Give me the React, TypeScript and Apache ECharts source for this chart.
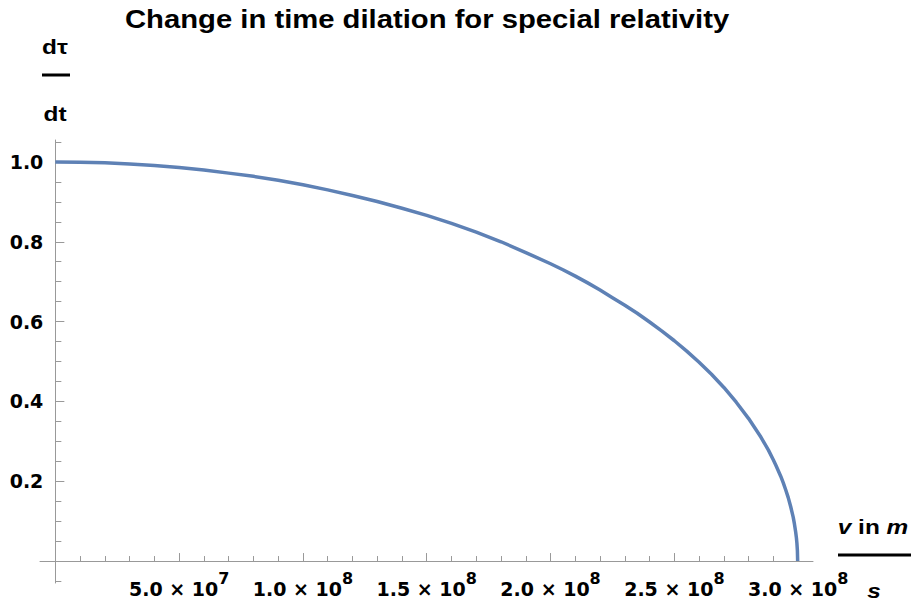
import React, { useEffect, useRef } from "react";
import * as echarts from "echarts";

// Speed v in m/s
const speeds: number[] = [
  0, 1e7, 2e7, 3e7, 4e7, 5e7, 6e7, 7e7, 8e7, 9e7, 10e7, 11e7, 12e7, 13e7, 14e7,
  15e7, 16e7, 17e7, 18e7, 19e7, 20e7, 20.5e7, 21e7, 21.5e7, 22e7, 22.5e7, 23e7,
  23.5e7, 24e7, 24.5e7, 25e7, 25.5e7, 26e7, 26.5e7, 27e7, 27.5e7, 28e7, 28.5e7,
  28.8e7, 29e7, 29.1e7, 29.3e7, 29.4e7, 29.5e7, 29.6e7, 29.7e7, 29.8e7, 29.85e7,
  29.9e7, 29.93e7, 29.95e7, 29.97e7, 29.98e7,
];
// dτ/dt
const ratios: number[] = [
  1.0, 0.999, 0.998, 0.995, 0.991, 0.986, 0.98, 0.972, 0.964, 0.954, 0.943, 0.93,
  0.916, 0.901, 0.884, 0.866, 0.846, 0.824, 0.8, 0.773, 0.745, 0.73, 0.714, 0.697,
  0.679, 0.66, 0.641, 0.621, 0.599, 0.576, 0.552, 0.526, 0.498, 0.468, 0.435, 0.398,
  0.357, 0.31, 0.278, 0.253, 0.24, 0.212, 0.196, 0.178, 0.159, 0.136, 0.11, 0.093,
  0.073, 0.058, 0.045, 0.026, 0.0,
];

const xMajorTicks: number[] = [5e7, 1e8, 1.5e8, 2e8, 2.5e8, 3e8];
const xMinorTicks: number[] = [
  1e7, 2e7, 3e7, 4e7, 6e7, 7e7, 8e7, 9e7, 11e7, 12e7, 13e7, 14e7, 16e7, 17e7, 18e7,
  19e7, 21e7, 22e7, 23e7, 24e7, 26e7, 27e7, 28e7, 29e7,
];
const yMajorTicks: number[] = [0.2, 0.4, 0.6, 0.8, 1.0];
const yMinorTicks: number[] = [
  -0.05, 0.05, 0.1, 0.15, 0.25, 0.3, 0.35, 0.45, 0.5, 0.55, 0.65, 0.7, 0.75, 0.85,
  0.9, 0.95, 1.05,
];

const titleText = "Change in time dilation for special relativity";
const FONT = "'Liberation Sans', Arial, sans-serif";
const TICK_FONT = "'DejaVu Sans', sans-serif";
const AXIS_COLOR = "#999999";
const LINE_COLOR = "#5E81B5";

function sci(v: number): string {
  const e = Math.floor(Math.log10(v) + 1e-9);
  const m = v / Math.pow(10, e);
  return `{m|${m.toFixed(1)} × 10}{e|${e}}`;
}

export default function App() {
  const ref = useRef<HTMLDivElement>(null);
  useEffect(() => {
    document.body.style.margin = "0";
    if (!ref.current) return;
    const chart = echarts.init(ref.current, undefined, { renderer: "svg" });

    // Plot frame: x from -6.2e6 to 3.06e8 over 773px, y from -0.055 to 1.055 over 443px
    const X_MIN = -6.2e6, X_MAX = 3.06e8, Y_MIN = -0.055, Y_MAX = 1.055;
    const G_LEFT = 40, G_TOP = 140, G_W = 773, G_H = 443;
    const pxX = G_W / (X_MAX - X_MIN);
    const pxY = G_H / (Y_MAX - Y_MIN);
    const zeroX = G_LEFT - X_MIN * pxX;
    const zeroY = G_TOP + Y_MAX * pxY;

    const xCommon = { type: "value" as const, position: "bottom" as const, splitLine: { show: false } };
    const yCommon = { type: "value" as const, position: "left" as const, splitLine: { show: false } };
    const noLine = { show: false, onZero: true, onZeroAxisIndex: 0 };

    const txt = (text: string, x: number, y: number, italic = false, extra: any = {}) => ({
      type: "text",
      x,
      y,
      scaleX: 1.22,
      style: {
        text,
        font: `${italic ? "italic " : ""}bold 20px ${FONT}`,
        fill: "#000",
        align: "center",
        verticalAlign: "middle",
        ...extra,
      },
    });

    chart.setOption({
      animation: false,
      backgroundColor: "#ffffff",
      grid: [
        { left: G_LEFT, top: G_TOP, width: G_W, height: G_H, containLabel: false, outerBoundsMode: "none" },
        {
          left: zeroX,
          top: G_TOP,
          width: G_LEFT + G_W - zeroX,
          height: zeroY - G_TOP,
          containLabel: false,
          outerBoundsMode: "none",
        },
      ],
      xAxis: [
        {
          ...xCommon,
          gridIndex: 0,
          min: X_MIN,
          max: X_MAX,
          axisLine: { show: true, onZero: true, onZeroAxisIndex: 0, lineStyle: { color: AXIS_COLOR, width: 1 } },
          axisTick: { show: true, inside: true, length: 8, customValues: xMajorTicks, lineStyle: { color: AXIS_COLOR } },
          axisLabel: { show: false },
        },
        {
          ...xCommon,
          gridIndex: 0,
          min: X_MIN,
          max: X_MAX,
          axisLine: noLine,
          axisTick: { show: true, inside: true, length: 5, customValues: xMinorTicks, lineStyle: { color: AXIS_COLOR } },
          axisLabel: { show: false },
        },
        {
          ...xCommon,
          gridIndex: 1,
          min: 0,
          max: X_MAX,
          axisLine: { show: false, onZero: false },
          axisTick: { show: false },
          axisLabel: {
            show: true,
            customValues: xMajorTicks,
            margin: 9,
            formatter: (v: number) => sci(v),
            rich: {
              m: { fontFamily: TICK_FONT, fontSize: 19, fontWeight: "bold", color: "#000", lineHeight: 28, verticalAlign: "bottom" },
              e: { fontFamily: TICK_FONT, fontSize: 16, fontWeight: "bold", color: "#000", lineHeight: 14, verticalAlign: "top" },
            },
          },
        },
      ],
      yAxis: [
        {
          ...yCommon,
          gridIndex: 0,
          min: Y_MIN,
          max: Y_MAX,
          axisLine: { show: true, onZero: true, onZeroAxisIndex: 0, lineStyle: { color: AXIS_COLOR, width: 1 } },
          axisTick: { show: true, inside: true, length: 9, customValues: yMajorTicks, lineStyle: { color: AXIS_COLOR } },
          axisLabel: { show: false },
        },
        {
          ...yCommon,
          gridIndex: 0,
          min: Y_MIN,
          max: Y_MAX,
          axisLine: noLine,
          axisTick: { show: true, inside: true, length: 6, customValues: yMinorTicks, lineStyle: { color: AXIS_COLOR } },
          axisLabel: { show: false },
        },
        {
          ...yCommon,
          gridIndex: 1,
          min: 0,
          max: Y_MAX,
          axisLine: { show: false, onZero: false },
          axisTick: { show: false },
          axisLabel: {
            show: true,
            customValues: yMajorTicks,
            margin: 12,
            formatter: (v: number) => v.toFixed(1),
            fontFamily: TICK_FONT,
            fontSize: 19,
            fontWeight: "bold",
            color: "#000",
          },
        },
      ],
      graphic: [
        {
          type: "text",
          x: 125,
          y: 19,
          scaleX: 1.17,
          style: { text: titleText, font: `bold 25px ${FONT}`, fill: "#000", align: "left", verticalAlign: "middle" },
        },
        txt("dτ", 55, 47),
        { type: "rect", shape: { x: 42, y: 73.5, width: 28, height: 3 }, style: { fill: "#000" } },
        txt("dt", 55, 114),
        txt("{i|v} in {i|m}", 873, 527, false, {
          rich: { i: { fontFamily: FONT, fontSize: 20, fontWeight: "bold", fontStyle: "italic", fill: "#000" } },
        }),
        { type: "rect", shape: { x: 838, y: 553.5, width: 73, height: 3 }, style: { fill: "#000" } },
        txt("s", 874, 591, true),
      ],
      series: [
        {
          type: "line",
          xAxisIndex: 0,
          yAxisIndex: 0,
          data: speeds.map((v, i) => [v, ratios[i]]),
          showSymbol: false,
          smooth: false,
          lineStyle: { color: LINE_COLOR, width: 3.5 },
          clip: false,
        },
      ],
    });
    return () => chart.dispose();
  }, []);
  return <div ref={ref} style={{ position: "fixed", left: 0, top: 0, width: 913, height: 605 }} />;
}
